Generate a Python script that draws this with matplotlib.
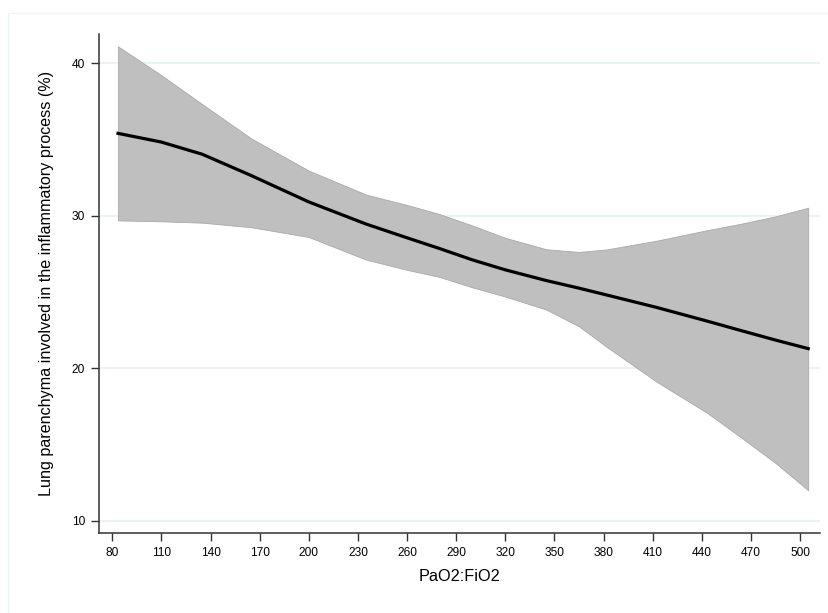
import numpy as np
import matplotlib
matplotlib.use("Agg")
from matplotlib import pyplot as plt
from matplotlib.patches import Rectangle

# Values (PaO2:FiO2 vs % lung involved, fit + 95% CI)
pf_ratio = [83.5, 110, 135, 165, 200, 235, 260, 280, 300, 320, 345, 365, 382, 412, 443, 463, 485, 505]
fit = [35.39, 34.82, 34.02, 32.62, 30.90, 29.45, 28.55, 27.84, 27.10, 26.45, 25.75, 25.25, 24.80, 24.00, 23.10, 22.50, 21.85, 21.29]
ci_upper = [41.09, 39.20, 37.30, 35.05, 32.95, 31.38, 30.70, 30.10, 29.35, 28.55, 27.80, 27.62, 27.79, 28.35, 29.04, 29.45, 29.95, 30.52]
ci_lower = [29.69, 29.63, 29.54, 29.24, 28.60, 27.12, 26.45, 25.98, 25.30, 24.70, 23.85, 22.75, 21.40, 19.15, 17.10, 15.55, 13.80, 12.01]

x_ticks = np.arange(80, 501, 30)
y_ticks = [10, 20, 30, 40]

x_label = "PaO2:FiO2"
y_label = "Lung parenchyma involved in the inflammatory process (%)"

plt.rcParams['font.family'] = ['Liberation Sans', 'DejaVu Sans']

fig = plt.figure(figsize=(8.29, 6.13), dpi=100)
fig.patch.set_facecolor('white')

# faint outer frame of the graph region
fig.add_artist(Rectangle((8 / 829, -0.1), 1.2, 1 - 13 / 613 + 0.1, transform=fig.transFigure,
                         fill=False, edgecolor='#eef3f5', linewidth=1.0))

ax = fig.add_axes([99 / 829, 1 - 533 / 613, (820 - 99) / 829, (533 - 34) / 613])

ax.fill_between(pf_ratio, ci_lower, ci_upper, color='#bfbfbf', edgecolor='#a9a9a9', linewidth=0.6, zorder=2)
ax.plot(pf_ratio, fit, color='black', linewidth=2.3, zorder=3, solid_joinstyle='round')

for y in y_ticks:
    ax.axhline(y, color='#e8f0f2', linewidth=1.2, zorder=1)

ax.set_xlim(71.9, 512.2)
ax.set_ylim(9.21, 41.9)
ax.set_xticks(x_ticks)
ax.set_yticks(y_ticks)
ax.tick_params(axis='both', labelsize=8.6, length=5.5, width=1.0, color='#333333', pad=4.5)

for side in ['top', 'right']:
    ax.spines[side].set_visible(False)
for side in ['left', 'bottom']:
    ax.spines[side].set_linewidth(1.1)
    ax.spines[side].set_color('#333333')

fig.text(459.5 / 829, 1 - 576.7 / 613, x_label, ha='center', va='center', fontsize=11.7)
fig.text(47 / 829, 1 - 283.5 / 613, y_label, ha='center', va='center', rotation=90, fontsize=11.6)

fig.savefig("out.png", dpi=100)
